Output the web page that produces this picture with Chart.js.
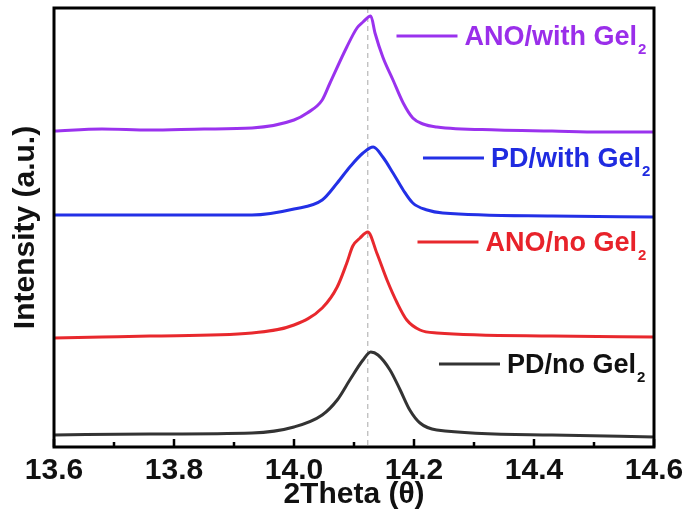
<!DOCTYPE html>
<html>
<head>
<meta charset="utf-8">
<script src="https://cdn.jsdelivr.net/npm/chart.js@4/dist/chart.umd.min.js"></script>
<style>
  html, body { margin: 0; padding: 0; background: #ffffff; }
  #wrap { width: 691px; height: 519px; }
</style>
</head>
<body>
<div id="wrap"><canvas id="xrd" width="691" height="519"></canvas></div>
<script>
// 2θ positions and stacked intensities (a.u.) for each sample
const anoWithX = [13.60, 13.68, 13.76, 13.85, 13.93, 14.00, 14.022, 14.047, 14.060, 14.088, 14.105, 14.115, 14.128, 14.135, 14.148, 14.165, 14.182, 14.198, 14.215, 14.238, 14.34, 14.43, 14.51, 14.60];
const anoWithY = [316, 318, 317, 318, 319, 327, 334, 347, 364, 400, 419, 425, 431, 414, 390, 367, 344, 329, 323, 320, 317, 316, 315, 315];

const pdWithX = [13.60, 13.76, 13.93, 14.00, 14.047, 14.072, 14.093, 14.115, 14.132, 14.148, 14.165, 14.182, 14.198, 14.222, 14.248, 14.43, 14.60];
const pdWithY = [232, 232, 232, 238, 247, 264, 280, 294, 300, 290, 274, 257, 244, 237, 234, 231, 230];

const anoNoX = [13.60, 13.68, 13.76, 13.93, 14.00, 14.047, 14.072, 14.088, 14.098, 14.110, 14.123, 14.138, 14.155, 14.172, 14.188, 14.210, 14.238, 14.43, 14.60];
const anoNoY = [109, 110, 111, 114, 122, 139, 160, 184, 201, 209, 215, 194, 167, 144, 127, 117, 114, 111, 110];

const pdNoX = [13.60, 13.76, 13.93, 14.00, 14.047, 14.072, 14.093, 14.115, 14.128, 14.140, 14.160, 14.177, 14.193, 14.210, 14.238, 14.43, 14.60];
const pdNoY = [12, 13, 14, 20, 32, 47, 67, 87, 95, 92, 77, 57, 37, 24, 17, 12, 10];

// series names (main text + subscript) and colours
const seriesNames = ['ANO/with Gel', 'PD/with Gel', 'ANO/no Gel', 'PD/no Gel'];
const seriesSub = ['2', '2', '2', '2'];
const lineColors = ['#9a32ee', '#2330e6', '#e8282d', '#333333'];
const textColors = ['#9a2eea', '#1f2be0', '#e8222a', '#111111'];

// axis ticks
const majorTicks = [13.6, 13.8, 14.0, 14.2, 14.4, 14.6];
const minorTicks = [13.7, 13.9, 14.1, 14.3, 14.5];
const xRange = [13.6, 14.6];
const yRange = [0, 439];

// reference peak position (dashed guide)
const peakGuide = 14.123;

const zip = (xs, ys) => xs.map((x, i) => ({ x: x, y: ys[i] }));
const seriesData = [zip(anoWithX, anoWithY), zip(pdWithX, pdWithY), zip(anoNoX, anoNoY), zip(pdNoX, pdNoY)];

const FONT = '"Liberation Sans", Arial, Helvetica, sans-serif';

const framePlugin = {
  id: 'frameAndGuides',
  beforeDatasetsDraw(chart) {
    const { ctx, chartArea: a, scales: { x } } = chart;
    const px = x.getPixelForValue(peakGuide);
    ctx.save();
    ctx.strokeStyle = '#a8a8a8';
    ctx.lineWidth = 1;
    ctx.setLineDash([5, 4]);
    ctx.beginPath();
    ctx.moveTo(px, a.top);
    ctx.lineTo(px, a.bottom);
    ctx.stroke();
    ctx.restore();
  },
  afterDatasetsDraw(chart) {
    const { ctx, chartArea: a, scales: { x } } = chart;
    ctx.save();
    // inward tick marks on the bottom axis
    ctx.strokeStyle = '#000';
    ctx.lineWidth = 2.5;
    ctx.beginPath();
    majorTicks.forEach(v => {
      const px = x.getPixelForValue(v);
      ctx.moveTo(px, a.bottom);
      ctx.lineTo(px, a.bottom - 8);
    });
    minorTicks.forEach(v => {
      const px = x.getPixelForValue(v);
      ctx.moveTo(px, a.bottom);
      ctx.lineTo(px, a.bottom - 5);
    });
    ctx.stroke();
    // box frame
    ctx.lineWidth = 3;
    ctx.strokeRect(a.left, a.top, a.right - a.left, a.bottom - a.top);

    // series key, right side
    const layout = [
      { y: 36, end: 637 },
      { y: 158, end: 641 },
      { y: 242, end: 637 },
      { y: 364, end: 636 }
    ];
    layout.forEach((L, i) => {
      ctx.font = 'bold 27px ' + FONT;
      const w = ctx.measureText(seriesNames[i]).width;
      const start = L.end - w;
      ctx.fillStyle = textColors[i];
      ctx.textBaseline = 'alphabetic';
      ctx.textAlign = 'left';
      ctx.fillText(seriesNames[i], start, L.y + 9);
      ctx.font = 'bold 15px ' + FONT;
      ctx.fillText(seriesSub[i], L.end + 1, L.y + 18);
      ctx.strokeStyle = lineColors[i];
      ctx.lineWidth = 3;
      ctx.beginPath();
      ctx.moveTo(start - 68, L.y);
      ctx.lineTo(start - 7, L.y);
      ctx.stroke();
    });
    ctx.restore();
  }
};

new Chart(document.getElementById('xrd'), {
  type: 'line',
  data: {
    datasets: seriesData.map((d, i) => ({
      label: seriesNames[i] + seriesSub[i],
      data: d,
      borderColor: lineColors[i],
      backgroundColor: lineColors[i],
      borderWidth: 3,
      pointRadius: 0,
      fill: false,
      cubicInterpolationMode: 'monotone'
    }))
  },
  options: {
    responsive: false,
    animation: false,
    devicePixelRatio: 1,
    layout: { padding: { top: 8, right: 37, left: 0, bottom: 0 } },
    plugins: { legend: { display: false }, tooltip: { enabled: false } },
    scales: {
      x: {
        type: 'linear',
        min: xRange[0],
        max: xRange[1],
        afterBuildTicks(scale) {
          scale.ticks = majorTicks.concat(minorTicks).sort((p, q) => p - q).map(v => ({ value: v }));
        },
        afterFit(scale) { scale.height = 72; },
        grid: { display: false, drawTicks: false },
        border: { display: false },
        ticks: {
          padding: 6,
          color: '#111',
          font: { family: FONT, size: 30, weight: 'bold' },
          maxRotation: 0,
          autoSkip: false,
          callback(v) {
            return majorTicks.some(m => Math.abs(m - v) < 1e-6) ? Number(v).toFixed(1) : '';
          }
        },
        title: {
          display: true,
          text: '2Theta (θ)',
          color: '#111',
          font: { family: FONT, size: 30, weight: 'bold' },
          padding: { top: 0, bottom: 6 }
        }
      },
      y: {
        min: yRange[0],
        max: yRange[1],
        afterFit(scale) { scale.width = 54; },
        grid: { display: false, drawTicks: false },
        border: { display: false },
        ticks: { display: false },
        title: {
          display: true,
          text: 'Intensity (a.u.)',
          color: '#111',
          font: { family: FONT, size: 30, weight: 'bold' },
          padding: { top: 8, bottom: 0 }
        }
      }
    }
  },
  plugins: [framePlugin]
});
</script>
</body>
</html>
